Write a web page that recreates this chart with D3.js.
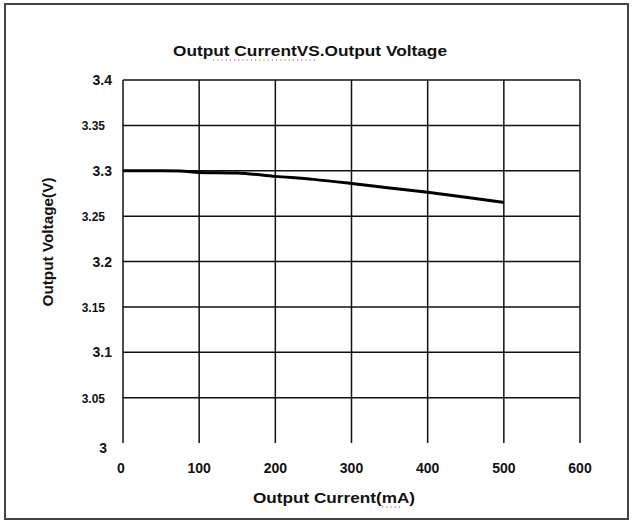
<!DOCTYPE html>
<html>
<head>
<meta charset="utf-8">
<script src="https://cdn.jsdelivr.net/npm/d3@7"></script>
<style>
  body { margin: 0; background: #fff; }
  svg { display: block; }
  text { font-family: "Liberation Sans", Arial, sans-serif; fill: #111; }
</style>
</head>
<body>
<svg id="grafico" width="632" height="522"></svg>
<script>
// data
var current = [0, 50, 75, 100, 150, 200, 250, 300, 350, 400, 450, 500];
var voltage = [3.3, 3.3, 3.2998, 3.2982, 3.2975, 3.2938, 3.2905, 3.286, 3.281, 3.2762, 3.2708, 3.265];
var xTicks = [0, 100, 200, 300, 400, 500, 600];
var yTicks = [3, 3.05, 3.1, 3.15, 3.2, 3.25, 3.3, 3.35, 3.4];
var yLabels = ["3", "3.05", "3.1", "3.15", "3.2", "3.25", "3.3", "3.35", "3.4"];

var svg = d3.select("#grafico");

// outer frame
svg.append("rect")
    .attr("x", 5).attr("y", 4)
    .attr("width", 623).attr("height", 515)
    .attr("fill", "none")
    .attr("stroke", "#444")
    .attr("stroke-width", 2);

var x = d3.scaleLinear().domain([0, 600]).range([123, 580]);
var y = d3.scaleLinear().domain([3, 3.4]).range([443, 80]);

var g = svg.append("g");

// vertical grid lines
g.selectAll(".vgrid")
  .data(xTicks)
  .enter().append("line")
    .attr("x1", function(d) { return x(d); })
    .attr("x2", function(d) { return x(d); })
    .attr("y1", y(3.4))
    .attr("y2", y(3))
    .attr("stroke", "#111")
    .attr("stroke-width", 1.5);

// horizontal grid lines (none on the bottom)
g.selectAll(".hgrid")
  .data(yTicks.filter(function(d) { return d > 3; }))
  .enter().append("line")
    .attr("x1", x(0))
    .attr("x2", x(600))
    .attr("y1", function(d) { return y(d); })
    .attr("y2", function(d) { return y(d); })
    .attr("stroke", "#111")
    .attr("stroke-width", 1.5);

// x tick labels
g.selectAll(".xlab")
  .data(xTicks)
  .enter().append("text")
    .attr("x", function(d) { return x(d) - (d === 0 ? 2 : 0); })
    .attr("y", 473)
    .attr("text-anchor", "middle")
    .attr("font-size", 14)
    .attr("font-weight", "bold")
    .text(function(d) { return d; });

// y tick labels: majors bold, minors smaller
g.selectAll(".ylab")
  .data(yTicks)
  .enter().append("text")
    .attr("x", function(d, i) { return i === 0 ? 107 : (i % 2 === 0 ? 112 : 105); })
    .attr("y", function(d, i) { return y(d) + (i === 0 ? 10 : 5); })
    .attr("text-anchor", "end")
    .attr("font-size", function(d, i) { return i % 2 === 0 ? 14 : 12; })
    .attr("font-weight", "bold")
    .attr("fill", function(d, i) { return i % 2 === 0 ? "#111" : "#333"; })
    .text(function(d, i) { return yLabels[i]; });

// data line
var line = d3.line()
    .x(function(d, i) { return x(current[i]); })
    .y(function(d) { return y(d); })
    .curve(d3.curveMonotoneX);

g.append("path")
    .datum(voltage)
    .attr("d", line)
    .attr("fill", "none")
    .attr("stroke", "#000")
    .attr("stroke-width", 3);

// title
var title = svg.append("text")
    .attr("x", 310).attr("y", 56)
    .attr("text-anchor", "middle")
    .attr("font-size", 15)
    .attr("font-weight", "bold")
    .attr("textLength", 274)
    .attr("lengthAdjust", "spacingAndGlyphs")
    .text("Output CurrentVS.Output Voltage");

// x axis title
var xTitle = svg.append("text")
    .attr("x", 334).attr("y", 503)
    .attr("text-anchor", "middle")
    .attr("font-size", 15)
    .attr("font-weight", "bold")
    .attr("textLength", 162)
    .attr("lengthAdjust", "spacingAndGlyphs")
    .text("Output Current(mA)");

// y axis title
svg.append("text")
    .attr("transform", "translate(53,242) rotate(-90)")
    .attr("text-anchor", "middle")
    .attr("font-size", 14)
    .attr("font-weight", "bold")
    .attr("textLength", 129)
    .attr("lengthAdjust", "spacingAndGlyphs")
    .text("Output Voltage(V)");

// red dotted spell-check marks under some words
function squiggle(x1, x2, yy) {
  svg.append("line")
      .attr("x1", x1).attr("x2", x2)
      .attr("y1", yy).attr("y2", yy)
      .attr("stroke", "#d04040")
      .attr("stroke-width", 1.2)
      .attr("stroke-dasharray", "1.2,3");
}
squiggle(213, 317, 60);
squiggle(382, 402, 507);
</script>
</body>
</html>
